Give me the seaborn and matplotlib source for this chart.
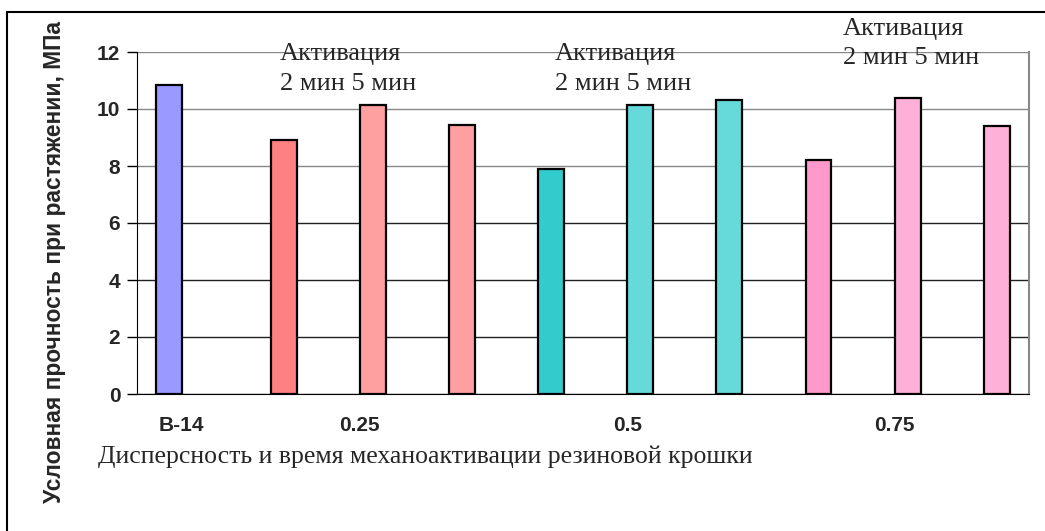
import pandas as pd
import numpy as np
import matplotlib.pyplot as plt
import seaborn as sns
from matplotlib.lines import Line2D

# данные
slots = list(range(10))
tick_labels = ['B-14', '', '0.25', '', '', '0.5', '', '', '0.75', '']
values = [10.85, 8.9, 10.15, 9.45, 7.9, 10.15, 10.3, 8.2, 10.4, 9.4]
series = ['B-14'] + ['крошка'] * 9
bar_colors = ['#9999FF', '#FF8080', '#FFA0A0', '#FFA0A0',
              '#33CCCC', '#66DADA', '#66DADA',
              '#FF99CC', '#FFB0D8', '#FFB0D8']

sns.set_style('white')
plt.rcParams['font.family'] = ['Liberation Sans', 'DejaVu Sans']
serif = ['Liberation Serif', 'DejaVu Serif']

df = pd.DataFrame({'slot': slots, 'val': values, 'series': series})

fig = plt.figure(figsize=(10.45, 5.31), dpi=100)
ax = fig.add_axes([137 / 1045, 1 - 394 / 531, 891.5 / 1045, 342 / 531])

sns.barplot(data=df, x='slot', y='val', hue='series', hue_order=['B-14', 'крошка'],
            order=slots, width=0.58, dodge=True, legend=False,
            edgecolor='black', linewidth=1.6, saturation=1, ax=ax)

# свой цвет для каждого столбика
bars = sorted(ax.patches, key=lambda p: p.get_x())
for p, c in zip(bars, bar_colors):
    p.set_facecolor(c)

ax.set_xlim(-0.5, 9.5)
ax.set_ylim(0, 12)
ax.set_yticks(np.arange(0, 13, 2))
ax.set_yticklabels([str(v) for v in range(0, 13, 2)], fontweight='bold', fontsize=15)
ax.set_xticks(slots)
ax.set_xticklabels(tick_labels, fontweight='bold', fontsize=15)
ax.set_xticks(np.arange(-0.5, 10, 1), minor=True)
ax.tick_params(axis='x', which='major', length=0, pad=16)
ax.tick_params(axis='x', which='minor', length=7, width=1, direction='out', color='black')
ax.tick_params(axis='y', length=7, width=1, direction='out', color='black', pad=5, left=True)

ax.grid(axis='y', linewidth=1)
ax.set_axisbelow(True)
for v, gl in zip(ax.get_yticks(), ax.get_ygridlines()):
    gl.set_color('#888888' if v >= 8 else '#222222')

ax.spines['top'].set_visible(False)
ax.spines['right'].set_color('#888888')
ax.spines['right'].set_linewidth(1.5)
ax.spines['left'].set_color('black')
ax.spines['bottom'].set_color('black')

ax.set_ylabel('Условная прочность при растяжении, МПа', fontweight='bold', fontsize=16.4)
ax.yaxis.set_label_coords(-0.0795, 0.387)
ax.set_xlabel('Дисперсность и время механоактивации резиновой крошки',
              family=serif, fontsize=18.5)
ax.xaxis.label.set_ha('left')
ax.xaxis.label.set_va('baseline')
ax.xaxis.set_label_coords(-0.0438, -0.2018)

# подписи "Активация"
for xp, yb in [(280, 60), (555, 60), (843, 35)]:
    fig.text(xp / 1045, 1 - yb / 531, 'Активация', ha='left', va='baseline',
             family=serif, fontsize=19)
    fig.text(xp / 1045, 1 - (yb + 29.5) / 531, '2 мин 5 мин', ha='left', va='baseline',
             family=serif, fontsize=19)

# рамка диаграммы
fig.add_artist(Line2D([7 / 1045, 1], [1 - 12 / 531, 1 - 12 / 531], color='black', lw=1.5))
fig.add_artist(Line2D([7 / 1045, 7 / 1045], [0, 1 - 12 / 531], color='black', lw=1.5))

plt.savefig('out.png', dpi=100)
